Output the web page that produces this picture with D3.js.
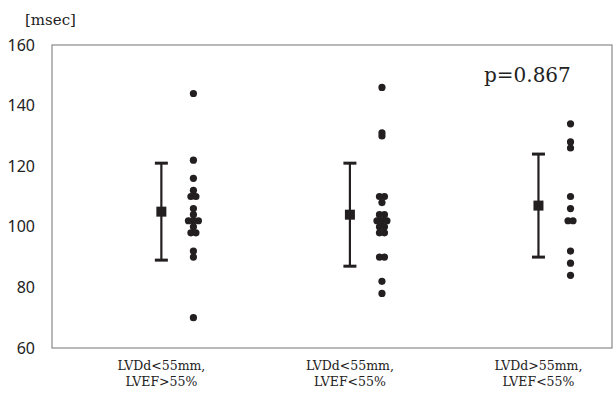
<!DOCTYPE html>
<html>
<head>
<meta charset="utf-8">
<script src="https://cdn.jsdelivr.net/npm/d3@7"></script>
<style>
  body { margin: 0; background: #fff; }
  svg { display: block; }
</style>
</head>
<body>
<div id="chart"></div>
<script>
// group labels (two lines each)
const categories = [
  ['LVDd<55mm,', 'LVEF>55%'],
  ['LVDd<55mm,', 'LVEF<55%'],
  ['LVDd>55mm,', 'LVEF<55%']
];

// individual values per group [msec]
const group1 = [144, 122, 116, 112, 110, 110, 106, 104, 102, 102, 102, 100, 98, 98, 92, 90, 70];
const group2 = [146, 131, 130, 110, 110, 108, 104, 104, 102, 102, 102, 100, 100, 98, 98, 90, 90, 82, 78];
const group3 = [134, 128, 126, 110, 106, 102, 102, 92, 88, 84];

// mean and SD shown as error bars
const means = [105, 104, 107];
const sds = [16, 17, 17];

const yTicks = [60, 80, 100, 120, 140, 160];
const pLabel = 'p=0.867';
const unitLabel = '[msec]';

const width = 613, height = 396;
const margin = { top: 45, right: 1, bottom: 48, left: 52 };

const svg = d3.select('#chart')
  .append('svg')
  .attr('width', width)
  .attr('height', height);

// x: group i sits at position i+1, dots a bit to the right of the error bar
const x = d3.scaleLinear()
  .domain([0.42, 3.39])
  .range([margin.left, width - margin.right]);

const y = d3.scaleLinear()
  .domain([60, 160])
  .range([height - margin.bottom, margin.top]);

const dotShift = 0.17;
const ink = '#231f20';

// frame
svg.append('rect')
  .attr('x', x(0.42))
  .attr('y', y(160))
  .attr('width', x(3.39) - x(0.42))
  .attr('height', y(60) - y(160))
  .attr('fill', 'none')
  .attr('stroke', '#8a8a8a')
  .attr('stroke-width', 1.2);

// y axis labels
const yAxis = svg.append('g')
  .attr('transform', 'translate(' + margin.left + ',0)')
  .call(d3.axisLeft(y).tickValues(yTicks).tickSize(0).tickPadding(17));
yAxis.select('.domain').remove();
yAxis.selectAll('text')
  .attr('fill', '#222')
  .style('font-family', '"Noto Sans", "Liberation Sans", sans-serif')
  .style('font-size', '16px');

svg.append('text')
  .attr('x', 25)
  .attr('y', 25)
  .attr('fill', '#222')
  .style('font-family', '"DejaVu Serif", serif')
  .style('font-size', '15px')
  .text(unitLabel);

// category labels
const cat = svg.append('g');
categories.forEach((lines, i) => {
  const t = cat.append('text')
    .attr('x', x(i + 1))
    .attr('y', 370)
    .attr('text-anchor', 'middle')
    .attr('fill', '#222')
    .style('font-family', '"DejaVu Serif", serif')
    .style('font-size', '12.5px');
  lines.forEach((s, j) => {
    t.append('tspan')
      .attr('x', x(i + 1))
      .attr('dy', j === 0 ? 0 : 16)
      .text(s);
  });
});

// error bars
const capW = 13;
means.forEach((m, i) => {
  const cx = x(i + 1);
  const g = svg.append('g').attr('stroke', ink).attr('stroke-width', 2.2);
  g.append('line')
    .attr('x1', cx).attr('x2', cx)
    .attr('y1', y(m + sds[i])).attr('y2', y(m - sds[i]));
  g.append('line')
    .attr('x1', cx - capW / 2).attr('x2', cx + capW / 2)
    .attr('y1', y(m + sds[i])).attr('y2', y(m + sds[i]))
    .attr('stroke-width', 3);
  g.append('line')
    .attr('x1', cx - capW / 2).attr('x2', cx + capW / 2)
    .attr('y1', y(m - sds[i])).attr('y2', y(m - sds[i]))
    .attr('stroke-width', 3);
  svg.append('rect')
    .attr('x', cx - 5)
    .attr('y', y(m) - 5)
    .attr('width', 10)
    .attr('height', 10)
    .attr('fill', ink);
});

// dots: equal values spread side by side
const spread = 5;
[group1, group2, group3].forEach((vals, i) => {
  const counts = d3.rollup(vals, v => v.length, d => d);
  const seen = new Map();
  const pts = vals.map(v => {
    const n = counts.get(v);
    const k = seen.get(v) || 0;
    seen.set(v, k + 1);
    return { v: v, off: (k - (n - 1) / 2) * spread };
  });
  svg.append('g')
    .selectAll('circle')
    .data(pts)
    .enter().append('circle')
    .attr('cx', d => x(i + 1 + dotShift) + d.off)
    .attr('cy', d => y(d.v))
    .attr('r', 3.6)
    .attr('fill', ink);
});

// p value
svg.append('text')
  .attr('x', 484)
  .attr('y', 82)
  .attr('fill', '#222')
  .style('font-family', '"DejaVu Serif", serif')
  .style('font-size', '20px')
  .text(pLabel);
</script>
</body>
</html>
